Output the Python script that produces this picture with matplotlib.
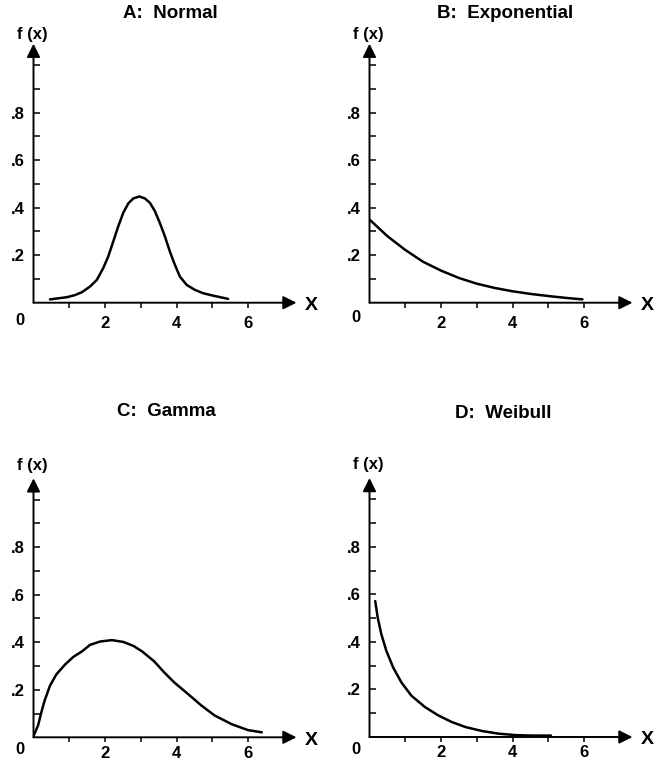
import matplotlib
matplotlib.use("Agg")
import matplotlib.pyplot as plt

plt.rcParams['font.family'] = ['Liberation Sans', 'DejaVu Sans']
plt.rcParams['font.weight'] = 'bold'

W, H = 666, 765

# values
normal_x = [0.46, 0.93, 1.16, 1.35, 1.58, 1.77, 1.95, 2.09, 2.23, 2.37, 2.51, 2.65, 2.79, 2.96,
            3.11, 3.25, 3.39, 3.53, 3.67, 3.81, 3.95, 4.09, 4.28, 4.51, 4.74, 4.98, 5.44]
normal_y = [0.014, 0.023, 0.032, 0.044, 0.068, 0.096, 0.146, 0.195, 0.258, 0.322, 0.379, 0.418, 0.439, 0.447,
            0.439, 0.421, 0.386, 0.336, 0.28, 0.216, 0.16, 0.11, 0.075, 0.054, 0.04, 0.031, 0.016]

expo_x = [0, 0.5, 1, 1.5, 2, 2.5, 3, 3.5, 4, 4.5, 5, 5.5, 5.95]
expo_y = [0.35, 0.28, 0.222, 0.172, 0.135, 0.104, 0.080, 0.062, 0.048, 0.037, 0.028, 0.020, 0.014]

gamma_x = [0, 0.13, 0.22, 0.31, 0.46, 0.64, 0.88, 1.11, 1.35, 1.58, 1.86, 2.19, 2.52, 2.80, 3.04,
           3.37, 3.66, 3.94, 4.32, 4.69, 5.06, 5.54, 6.0, 6.38]
gamma_y = [0.005, 0.051, 0.106, 0.154, 0.217, 0.265, 0.306, 0.338, 0.361, 0.389, 0.403, 0.409, 0.401, 0.384, 0.361,
           0.32, 0.272, 0.23, 0.182, 0.134, 0.092, 0.055, 0.03, 0.021]

weib_x = [0.16, 0.23, 0.33, 0.47, 0.66, 0.89, 1.17, 1.55, 1.92, 2.30, 2.68, 3.15, 3.61, 4.08, 4.55, 5.07]
weib_y = [0.572, 0.502, 0.433, 0.363, 0.293, 0.23, 0.174, 0.126, 0.091, 0.063, 0.042, 0.025, 0.014, 0.008, 0.006, 0.006]

titles = ['A:  Normal', 'B:  Exponential', 'C:  Gamma', 'D:  Weibull']
x_ticks = [1, 2, 3, 4, 5, 6]
x_labels = ['', '2', '', '4', '', '6']
y_ticks = [0.1, 0.2, 0.3, 0.4, 0.5, 0.6, 0.7, 0.8, 0.9, 1.0]
y_labels = ['', '.2', '', '.4', '', '.6', '', '.8', '', '']

XMAX, YMAX = 7.35, 1.09
AX_W, AX_H = 263, 259

fig = plt.figure(figsize=(W / 100, H / 100), dpi=100)


# origin of each panel in pixels (from top-left), title centre
def panel(ox, oy, tx, ty, title, xs, ys, xpad, zero_dy, fx_dy):
    ax = fig.add_axes([ox / W, (H - oy) / H, AX_W / W, AX_H / H])
    ax.set_xlim(0, XMAX)
    ax.set_ylim(0, YMAX)
    for s in ax.spines.values():
        s.set_visible(False)
    ax.plot(xs, ys, color='black', lw=1.8, solid_capstyle='round', solid_joinstyle='round')

    arrow = dict(arrowstyle='-|>', lw=1.4, color='black', mutation_scale=20,
                 shrinkA=0, shrinkB=0)
    ax.annotate('', xy=(XMAX, 0), xytext=(0, 0), arrowprops=arrow, annotation_clip=False)
    ax.annotate('', xy=(0, YMAX), xytext=(0, 0), arrowprops=arrow, annotation_clip=False)

    ax.set_xticks(x_ticks)
    ax.set_xticklabels(x_labels)
    ax.set_yticks(y_ticks)
    ax.set_yticklabels(y_labels)
    ax.tick_params(axis='x', direction='out', length=3.5, width=1.1, pad=xpad, labelsize=12)
    ax.tick_params(axis='y', direction='in', length=4, width=1.1, pad=6, labelsize=12)

    ax.annotate('0', xy=(0, 0), xytext=(-10, zero_dy), textcoords='offset points',
                ha='center', va='center', fontsize=12, fontweight='bold')
    ax.annotate('X', xy=(XMAX, 0), xytext=(11, -2), textcoords='offset points',
                ha='center', va='center', fontsize=14, fontweight='bold')
    ax.annotate('f (x)', xy=(0, YMAX), xytext=(-1, fx_dy), textcoords='offset points',
                ha='center', va='center', fontsize=12, fontweight='bold')
    fig.text(tx / W, 1 - ty / H, title, ha='center', va='center', fontsize=13.5, fontweight='bold')
    return ax


panel(33.5, 302.7, 170, 14, titles[0], normal_x, normal_y, 6, -13, 6.5)
panel(369.5, 302.7, 505, 14, titles[1], expo_x, expo_y, 6, -11, 6.5)
panel(33.5, 737.3, 166, 412, titles[2], gamma_x, gamma_y, 2.5, -9, 9.5)
panel(369.5, 737.0, 503, 414, titles[3], weib_x, weib_y, 2.5, -9, 9.5)

fig.savefig('out.png', dpi=100)
